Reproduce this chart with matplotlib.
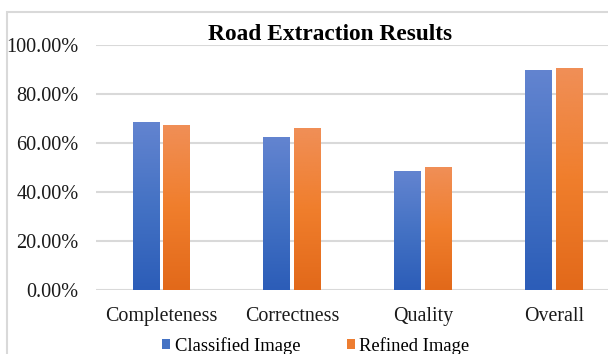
import numpy as np
import matplotlib
matplotlib.use("Agg")
import matplotlib.pyplot as plt
from matplotlib.colors import LinearSegmentedColormap
from matplotlib.patches import Rectangle

categories = ["Completeness", "Correctness", "Quality", "Overall"]
classified = [0.686, 0.624, 0.484, 0.898]
refined = [0.675, 0.661, 0.502, 0.905]
series_names = ["Classified Image", "Refined Image"]
yticks = [0.0, 0.2, 0.4, 0.6, 0.8, 1.0]
ytick_labels = ["0.00%", "20.00%", "40.00%", "60.00%", "80.00%", "100.00%"]

plt.rcParams["font.family"] = ["Liberation Serif", "DejaVu Serif"]

W, H = 608, 354
fig = plt.figure(figsize=(W / 100, H / 100), dpi=100)
fig.patch.set_facecolor("white")

# chart frame
fig.add_artist(Rectangle((6.5 / W, -0.1), 1.2, (H - 12.5) / H + 0.1,
                         transform=fig.transFigure, fill=False,
                         edgecolor="#d9d9d9", linewidth=1.5))

ax = fig.add_axes([95.8 / W, (H - 290) / H, 523.6 / W, 245 / H])
ax.set_xlim(-0.5, 3.5)
ax.set_ylim(0, 1)

for s in ax.spines.values():
    s.set_visible(False)
ax.set_yticks(yticks)
ax.set_yticklabels(ytick_labels, fontsize=14.6, color="#1a1a1a")
ax.tick_params(axis="y", length=0, pad=12.5)
ax.set_xticks(range(len(categories)))
ax.set_xticklabels(categories, fontsize=14.4, color="#1a1a1a")
ax.tick_params(axis="x", length=0, pad=12.5)
ax.yaxis.grid(True, color="#d9d9d9", linewidth=1.5)
ax.set_axisbelow(True)

x = np.arange(len(categories))
bw = 0.205
off = 0.117
blue_cmap = LinearSegmentedColormap.from_list("b", ["#2c5db8", "#4472c4", "#6384d0"])
orange_cmap = LinearSegmentedColormap.from_list("o", ["#e2691a", "#f07e2c", "#f08f57"])

legend_handles = []
for vals, dx, cmap, solid, name in [(classified, -off, blue_cmap, "#4472c4", series_names[0]),
                                     (refined, off, orange_cmap, "#ed7d31", series_names[1])]:
    bars = ax.bar(x + dx, vals, width=bw, color=solid, zorder=2, label=name)
    for b in bars:
        x0, y0 = b.get_x(), b.get_y()
        w, h = b.get_width(), b.get_height()
        grad = np.linspace(0, 1, 256).reshape(-1, 1)
        im = ax.imshow(grad, cmap=cmap, origin="lower", aspect="auto",
                       extent=(x0, x0 + w, y0, y0 + h), zorder=3)
        im.set_clip_path(b)
    legend_handles.append(bars)

ax.set_xlim(-0.5, 3.5)
ax.set_ylim(0, 1)

fig.text(330 / W, 1 - 34.5 / H, "Road Extraction Results", ha="center", va="center",
         fontsize=16.8, fontweight="bold", color="black")

fig.legend(handles=[h[0] for h in legend_handles], labels=series_names,
           loc="center", bbox_to_anchor=(316 / W, 1 - 346 / H), ncol=2,
           frameon=False, fontsize=13.4, handlelength=0.42, handleheight=0.42,
           handletextpad=0.25, columnspacing=2.5, borderaxespad=0)

fig.savefig("out.png", dpi=100, facecolor="white")
